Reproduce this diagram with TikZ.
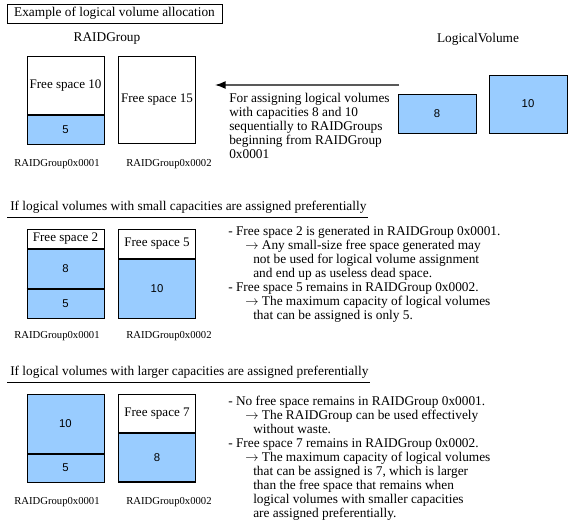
\documentclass[tikz,border=0pt]{standalone}
\usepackage{fontspec}
\setmainfont{Liberation Serif}
\newfontfamily\numfont{Liberation Sans}
\usetikzlibrary{positioning, arrows.meta}
\definecolor{volblue}{RGB}{153,204,255}

\begin{document}
\begin{tikzpicture}[x=0.75pt, y=-0.75pt,
    blk/.style={draw, minimum width=58pt, inner sep=0pt, font=\fontsize{9.8}{10.5}\selectfont},
    used/.style={blk, fill=volblue, font=\numfont\fontsize{8.5}{10}\selectfont},
    grp/.style={inner sep=0pt, font=\fontsize{8}{9.5}\selectfont},
    txt/.style={inner sep=0pt, font=\fontsize{10}{10.5}\selectfont},
    note/.style={txt, align=left, anchor=north west},
    sep/.style={line width=1.5pt},
    >=Latex
    ]
\useasboundingbox (0,0) rectangle (573,523);

% example
\node[draw, txt, minimum width=161pt, minimum height=14pt] (title) at (114.5,13.5) {Example of logical volume allocation};
\node[txt] (rglbl) at (107,39) {RAIDGroup};
\node[txt] (lvlbl) at (478,39) {LogicalVolume};

\node[blk, anchor=north, minimum height=43.5pt] (f1) at (65.5,56) {Free space 10};
\node[used, minimum height=21.75pt, below=0pt of f1] (u1) {5};
\node[blk, anchor=north, minimum height=65.25pt] (f2) at (157,56) {Free space 15};
\node[grp] (g1) at (57,164) {RAIDGroup0x0001};
\node[grp] (g2) at (169,164) {RAIDGroup0x0002};

\node[used, minimum width=58.5pt, minimum height=29.25pt] (lv8) at (437,113.5) {8};
\node[used, minimum width=58.5pt, minimum height=43.5pt] (lv10) at (528,104) {10};

\coordinate (arrS) at (399,85);
\coordinate (arrE) at (215,85);
\draw[-{Latex[black]}, draw=black!65, line width=1.1pt] (arrS) -- (arrE);

\node[note] (n1) at (229,93) {For assigning logical volumes\\
with capacities 8 and 10\\
sequentially to RAIDGroups\\
beginning from RAIDGroup\\
0x0001};

% small ones first
\node[txt, anchor=west] (h2) at (10,207) {If logical volumes with small capacities are assigned preferentially};
\draw (7,217) -- (368,217);

\node[blk, anchor=north, minimum height=14.25pt] (af) at (65.5,229) {Free space 2};
\node[used, minimum height=30pt, below=0pt of af] (a8) {8};
\node[used, minimum height=21.75pt, below=0pt of a8] (a5) {5};
\draw[sep] (a8.south west) -- (a8.south east);
\node[blk, anchor=north, minimum height=21.75pt] (bf) at (157,229) {Free space 5};
\node[used, minimum height=44.25pt, below=0pt of bf] (b10) {10};
\node[grp] (g3) at (57,336) {RAIDGroup0x0001};
\node[grp] (g4) at (169,336) {RAIDGroup0x0002};

\node[note] (n2) at (228,226) {- Free space 2 is generated in RAIDGroup 0x0001.\\
\hspace*{12.75pt}$\rightarrow$ Any small-size free space generated may\\
\hspace*{18.75pt}not be used for logical volume assignment\\
\hspace*{18.75pt}and end up as useless dead space.\\
- Free space 5 remains in RAIDGroup 0x0002.\\
\hspace*{12.75pt}$\rightarrow$ The maximum capacity of logical volumes\\
\hspace*{18.75pt}that can be assigned is only 5.};

% larger ones first
\node[txt, anchor=west] (h3) at (10,372) {If logical volumes with larger capacities are assigned preferentially};
\draw (7,382) -- (370,382);

\node[used, anchor=north, minimum height=44.25pt] (c10) at (65.5,394) {10};
\node[used, minimum height=21pt, below=0pt of c10] (c5) {5};
\node[blk, anchor=north, minimum height=28.5pt] (df) at (157,394) {Free space 7};
\node[used, minimum height=36.75pt, below=0pt of df] (d8) {8};
\draw[sep] (d8.south west) -- (d8.south east);
\node[grp] (g5) at (57,502) {RAIDGroup0x0001};
\node[grp] (g6) at (169,502) {RAIDGroup0x0002};

\node[note] (n3) at (228,396) {- No free space remains in RAIDGroup 0x0001.\\
\hspace*{12.75pt}$\rightarrow$ The RAIDGroup can be used effectively\\
\hspace*{18.75pt}without waste.\\
- Free space 7 remains in RAIDGroup 0x0002.\\
\hspace*{12.75pt}$\rightarrow$ The maximum capacity of logical volumes\\
\hspace*{18.75pt}that can be assigned is 7, which is larger\\
\hspace*{18.75pt}than the free space that remains when\\
\hspace*{18.75pt}logical volumes with smaller capacities\\
\hspace*{18.75pt}are assigned preferentially.};

\end{tikzpicture}
\end{document}
